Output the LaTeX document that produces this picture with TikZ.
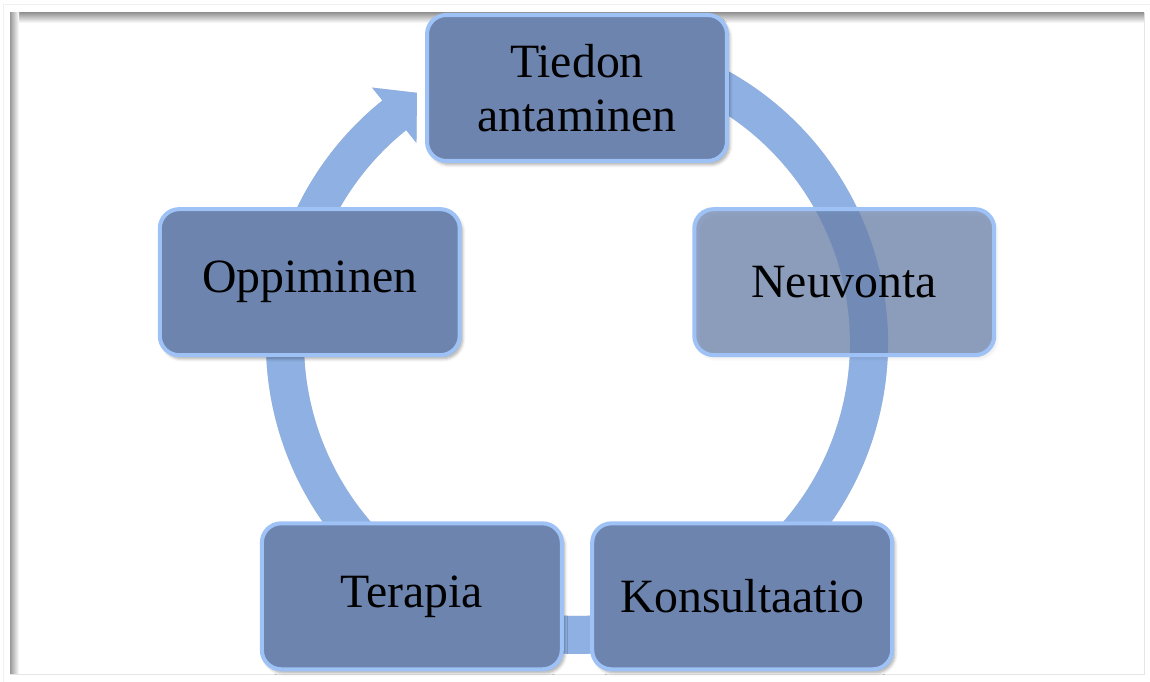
\documentclass[tikz,border=0pt]{standalone}
\usepackage{fontspec}
\setmainfont{Liberation Serif}
\usetikzlibrary{calc,shadows.blur}
\definecolor{boxfill}{RGB}{108,132,174}
\definecolor{boxline}{RGB}{158,194,245}
\definecolor{ringblue}{RGB}{142,176,227}
\tikzset{style box/.style={
    draw=boxline, line width=2.3pt, fill=boxfill,
    rounded corners=11pt,
    minimum width=6cm, minimum height=2.92cm,
    align=center, font=\fontsize{27.2}{30.6}\selectfont,
    #1
  },
  style shadow/.style={
    blur shadow={shadow xshift=1.5pt, shadow yshift=-2pt,
      shadow blur steps=6, shadow opacity=#1},
  },
  style ring/.style={
    draw=ringblue, line width=0.76cm,
  },
  style tip/.style={
    fill=ringblue,
  },
  style ringshadow/.style={
    black!18, xshift=1.6pt, yshift=-2.2pt,
  }
}

\begin{document}
\begin{tikzpicture}[x=0.02cm,y=0.02cm]
  \useasboundingbox (0,0) rectangle (1150,682);
  \coordinate (centre) at (577,339);
  \coordinate (hub) at (577,313);

  % -- The frame round the picture.
  \draw[black!6, line width=0.5pt] (3,0) -- (3,678) -- (1150,678);
  \draw[black!10, line width=0.5pt] (10,8) -- (1144,8) -- (1144,669);
  \shade[top color=black!40, bottom color=white] (10,659) rectangle (1144,669);
  \shade[left color=black!40, right color=white] (10,8) rectangle (19,669);

  % -- The cycle arrow, with its shadow first.
  \draw[style ring, style ringshadow, line width=0.76cm] ($(centre)+(75:292)$) arc[start angle=75, end angle=-231.5, radius=5.84cm];
  \fill[style ringshadow] ($(centre)+(128.75:256.5)$) -- ($(centre)+(122.6:297)$) -- ($(centre)+(128.75:327.5)$) -- cycle;
  \draw[style ring] ($(centre)+(75:292)$) arc[start angle=75, end angle=-231.5, radius=5.84cm];
  \fill[style tip] ($(centre)+(128.75:256.5)$) -- ($(centre)+(122.6:297)$) -- ($(centre)+(128.75:327.5)$) -- cycle;

  % -- The five steps.
  \node[style box, style shadow=35] (tiedon) at ($(hub)+(90:281)$) {Tiedon\\antaminen};
  \node[style box={fill opacity=0.74, text opacity=1}, style shadow=12] (neuvonta) at ($(hub)+(18:281)$) {Neuvonta};
  \node[style box, style shadow=35] (konsultaatio) at ($(hub)+(-54:281)$) {Konsultaatio};
  \node[style box, style shadow=35] (terapia) at ($(hub)+(-126:281)$) {Terapia};
  \node[style box, style shadow=35] (oppiminen) at ($(hub)+(162:281)$) {Oppiminen};
\end{tikzpicture}
\end{document}
